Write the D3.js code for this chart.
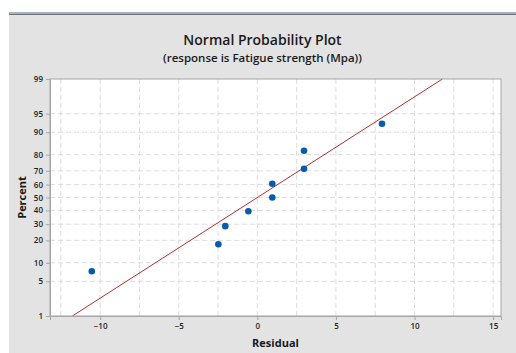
<!DOCTYPE html>
<html>
<head>
<meta charset="utf-8">
<script src="https://cdn.jsdelivr.net/npm/d3@7"></script>
<style>
  body { margin: 0; background: #fff; }
  svg { display: block; font-family: "Open Sans", "DejaVu Sans", sans-serif; }
</style>
</head>
<body>
<div id="chart"></div>
<script>
// residuals and their plotted percent
const residuals = [-10.53, -2.48, -2.04, -0.57, 0.95, 0.95, 2.97, 2.97, 7.93];
const percents  = [7.4, 17.9, 28.7, 39.4, 60.6, 50.0, 82.1, 71.3, 92.6];

// fitted normal line
const fitMean = 0;
const fitSd = 5.06;

const xTicks = [-10, -5, 0, 5, 10, 15];
const xGrid = [-12.5, -10, -7.5, -5, -2.5, 0, 2.5, 5, 7.5, 10, 12.5, 15];
const yTicks = [1, 5, 10, 20, 30, 40, 50, 60, 70, 80, 90, 95, 99];

const title = "Normal Probability Plot";
const subtitle = "(response is Fatigue strength (Mpa))";

const width = 516, height = 353;
const margin = { top: 79, right: 15, bottom: 37, left: 50 };
const plotW = width - margin.left - margin.right;
const plotH = height - margin.top - margin.bottom;

const svg = d3.select("#chart").append("svg")
    .attr("width", width)
    .attr("height", height);

// panel background + top bar
svg.append("rect")
    .attr("x", 9).attr("y", 12)
    .attr("width", width - 9).attr("height", height - 12)
    .attr("fill", "#e3e3e3");
svg.append("rect")
    .attr("x", 9).attr("y", 12)
    .attr("width", width - 9).attr("height", 2)
    .attr("fill", "#9fb3c8");
svg.append("rect")
    .attr("x", 9).attr("y", 14)
    .attr("width", width - 9).attr("height", 1)
    .attr("fill", "#707070");

// inverse normal cdf (Acklam's approximation) for the probability axis
function inverseNormal(p) {
    const a = [-39.69683028665376, 220.9460984245205, -275.9285104469687, 138.3577518672690, -30.66479806614716, 2.506628277459239];
    const b = [-54.47609879822406, 161.5858368580409, -155.6989798598866, 66.80131188771972, -13.28068155288572];
    const c = [-0.007784894002430293, -0.3223964580411365, -2.400758277161838, -2.549732539343734, 4.374664141464968, 2.938163982698783];
    const d = [0.007784695709041462, 0.3224671290700398, 2.445134137142996, 3.754408661907416];
    const pl = 0.02425;
    let q, r;
    if (p < pl) {
        q = Math.sqrt(-2 * Math.log(p));
        return (((((c[0]*q+c[1])*q+c[2])*q+c[3])*q+c[4])*q+c[5]) / ((((d[0]*q+d[1])*q+d[2])*q+d[3])*q+1);
    } else if (p <= 1 - pl) {
        q = p - 0.5; r = q * q;
        return (((((a[0]*r+a[1])*r+a[2])*r+a[3])*r+a[4])*r+a[5])*q / (((((b[0]*r+b[1])*r+b[2])*r+b[3])*r+b[4])*r+1);
    } else {
        q = Math.sqrt(-2 * Math.log(1 - p));
        return -(((((c[0]*q+c[1])*q+c[2])*q+c[3])*q+c[4])*q+c[5]) / ((((d[0]*q+d[1])*q+d[2])*q+d[3])*q+1);
    }
}

const x = d3.scaleLinear().domain([-13.19, 15.5]).range([0, plotW]);
const zScale = d3.scaleLinear()
    .domain([inverseNormal(0.01), inverseNormal(0.99)])
    .range([plotH, 0]);
const y = pct => zScale(inverseNormal(pct / 100));

const g = svg.append("g").attr("transform", `translate(${margin.left},${margin.top})`);

g.append("rect")
    .attr("width", plotW).attr("height", plotH)
    .attr("fill", "#fff");

// grid
g.selectAll(".vgrid").data(xGrid).enter().append("line")
    .attr("class", "vgrid")
    .attr("x1", d => x(d)).attr("x2", d => x(d))
    .attr("y1", 0).attr("y2", plotH)
    .attr("stroke", "#dcdcdc").attr("stroke-dasharray", "5,3");
g.selectAll(".hgrid").data(yTicks.slice(1, -1)).enter().append("line")
    .attr("class", "hgrid")
    .attr("x1", 0).attr("x2", plotW)
    .attr("y1", d => y(d)).attr("y2", d => y(d))
    .attr("stroke", "#dcdcdc").attr("stroke-dasharray", "5,3");

// fitted line
const line = d3.line().x(d => x(d[0])).y(d => y(d[1]));
const fitPts = [1, 99].map(p => [fitMean + fitSd * inverseNormal(p / 100), p]);
g.append("path")
    .attr("d", line(fitPts))
    .attr("fill", "none")
    .attr("stroke", "#b0302e")
    .attr("stroke-width", 1);

// points
g.selectAll(".pt").data(residuals).enter().append("circle")
    .attr("class", "pt")
    .attr("cx", d => x(d))
    .attr("cy", (d, i) => y(percents[i]))
    .attr("r", 3.3)
    .attr("fill", "#0a5aab");

// border
g.append("rect")
    .attr("width", plotW).attr("height", plotH)
    .attr("fill", "none").attr("stroke", "#a6a6a6");

// axes
const xAxis = g.append("g")
    .attr("transform", `translate(0,${plotH})`)
    .call(d3.axisBottom(x).tickValues(xTicks).tickSize(4).tickPadding(3).tickFormat(d3.format("d")));
const yAxis = g.append("g")
    .call(d3.axisLeft(zScale).tickValues(yTicks.map(p => inverseNormal(p / 100)))
        .tickSize(4).tickPadding(3)
        .tickFormat((d, i) => yTicks[i]));
[xAxis, yAxis].forEach(a => {
    a.select(".domain").attr("stroke", "#a6a6a6");
    a.selectAll(".tick line").attr("stroke", "#a6a6a6");
    a.selectAll("text")
        .attr("fill", "#222")
        .style("font-size", "8px")
        .style("font-weight", "600")
        .style("font-family", "'Open Sans', sans-serif");
});

// titles
svg.append("text")
    .attr("x", 262.5).attr("y", 45)
    .attr("text-anchor", "middle")
    .style("font-size", "14px").style("font-weight", "600")
    .attr("fill", "#1a1a1a")
    .text(title);
svg.append("text")
    .attr("x", 262.5).attr("y", 62)
    .attr("text-anchor", "middle")
    .style("font-size", "11.5px").style("font-weight", "600")
    .attr("fill", "#1a1a1a")
    .text(subtitle);

svg.append("text")
    .attr("x", margin.left + plotW / 2).attr("y", 347)
    .attr("text-anchor", "middle")
    .style("font-size", "11px").style("font-weight", "bold")
    .attr("fill", "#1a1a1a")
    .text("Residual");
svg.append("text")
    .attr("transform", `translate(26,${margin.top + plotH / 2}) rotate(-90)`)
    .attr("text-anchor", "middle")
    .style("font-size", "11px").style("font-weight", "bold")
    .attr("fill", "#1a1a1a")
    .text("Percent");
</script>
</body>
</html>
